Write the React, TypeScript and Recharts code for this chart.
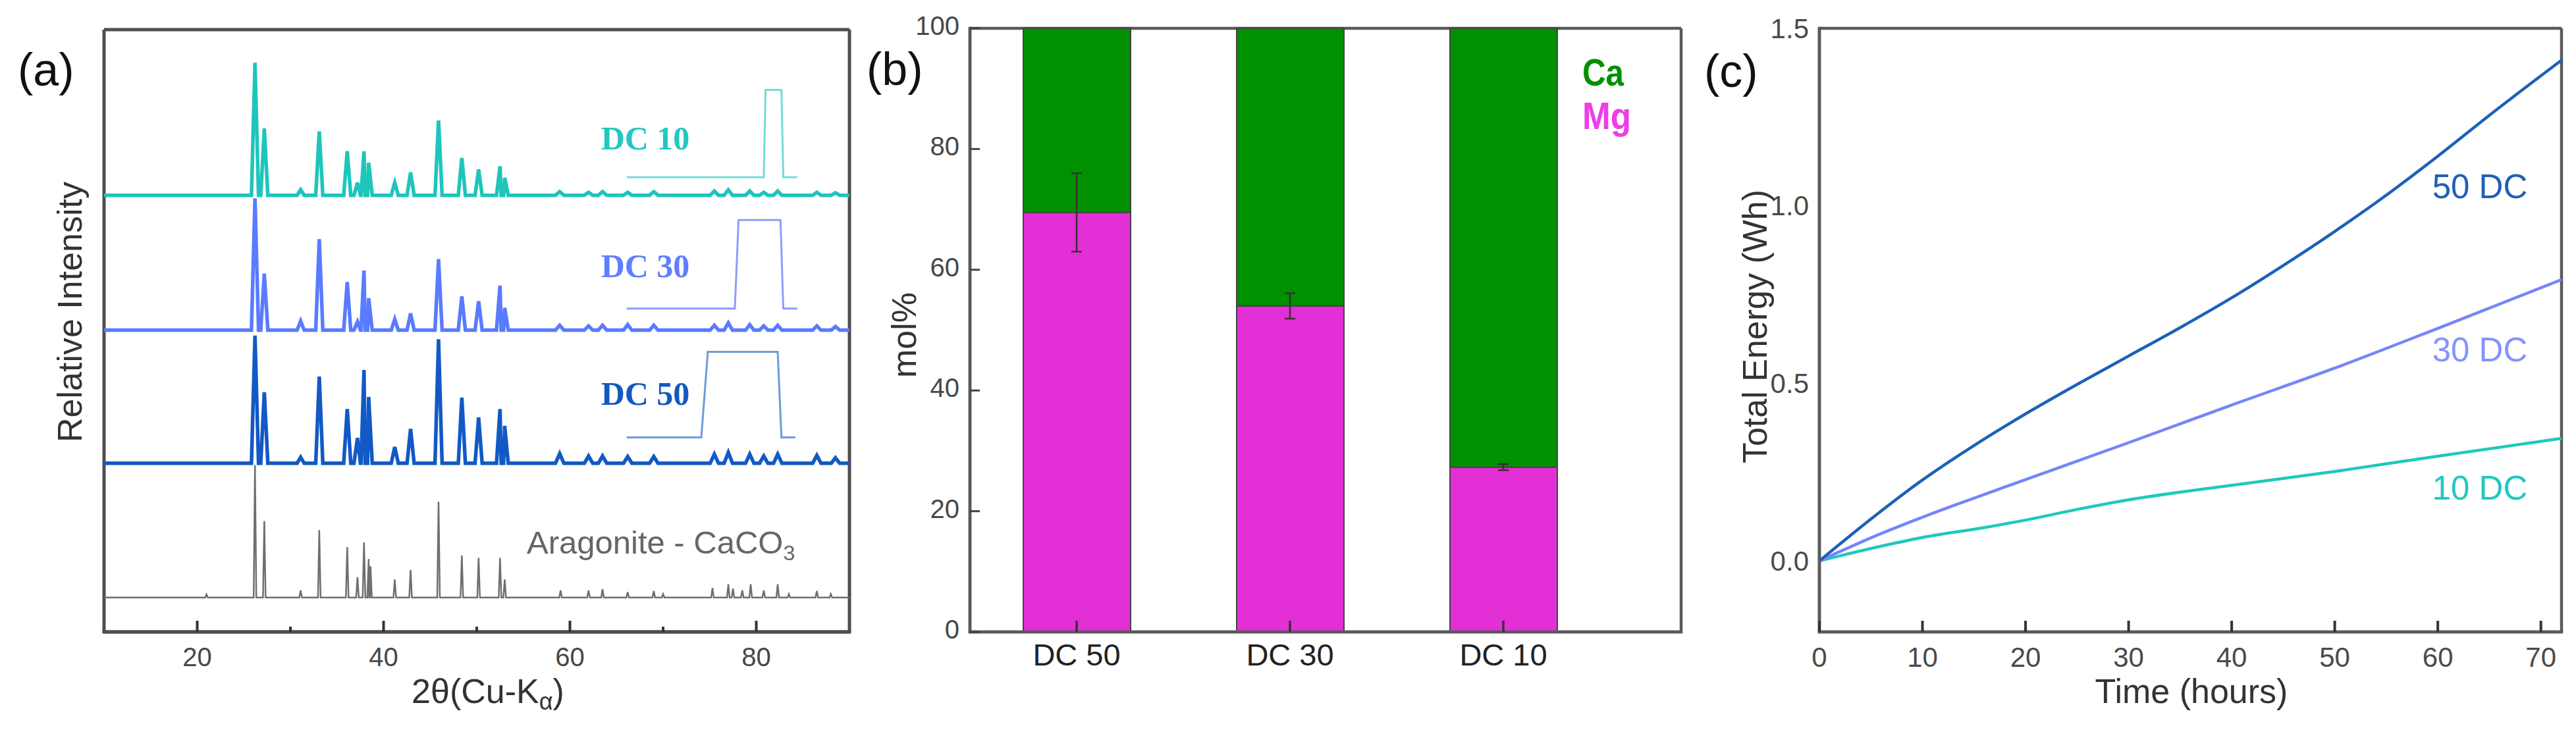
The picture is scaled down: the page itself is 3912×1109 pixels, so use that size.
import React from 'react';
import { LineChart, Line, XAxis, YAxis, ComposedChart, Bar, Scatter, ErrorBar, CartesianGrid } from 'recharts';

const SANS = '"Liberation Sans", Arial, Helvetica, sans-serif';
const SERIF = '"Liberation Serif", "Times New Roman", serif';

// ---------------- Panel (a): XRD patterns ----------------
const xrdTicks = [20, 30, 40, 50, 60, 70, 80];
const xrdLabelledTicks = [20, 40, 60, 80];
const samplePeakPos = [26.2, 27.2, 31.1, 33.1, 36.1, 37.2, 37.9, 38.4, 41.2, 42.9, 45.9, 48.4, 50.2, 52.5, 53.0];
const dc10Peaks = [94.5, 83.6, 73.4, 83.1, 79.8, 74.6, 79.8, 77.9, 74.6, 76.3, 84.9, 78.7, 76.8, 77.3, 75.4];
const dc30Peaks = [72.0, 59.5, 51.6, 65.2, 58.1, 51.5, 60.0, 55.4, 51.9, 52.9, 61.9, 55.7, 54.9, 57.5, 53.8];
const dc50Peaks = [49.2, 39.8, 29.0, 42.4, 37.0, 32.2, 43.5, 39.0, 30.7, 33.7, 48.6, 38.9, 35.6, 37.0, 34.2];
const sampleMinorPos = [58.9, 62.0, 63.5, 66.2, 69.0, 75.5, 77.0, 79.3, 80.8, 82.3, 86.5, 88.5];
const dc10Minor = [73.1, 73.0, 73.1, 73.0, 73.1, 73.2, 73.4, 73.2, 73.0, 73.2, 73.0, 72.9];
const dc30Minor = [50.9, 50.8, 50.9, 51.0, 50.9, 50.9, 51.3, 51.0, 50.8, 50.9, 50.8, 50.7];
const dc50Minor = [29.6, 29.2, 29.2, 29.1, 29.1, 29.5, 29.8, 29.5, 29.2, 29.5, 29.3, 28.9];
const dc10Base = 72.5;
const dc30Base = 50.1;
const dc50Base = 28.0;
const refBase = 5.7;
const refPeakPos = [21.0, 26.2, 27.2, 31.1, 33.1, 36.1, 37.2, 37.9, 38.4, 38.6, 41.2, 42.9, 45.9, 48.4, 50.2, 52.5, 53.0,
  59.0, 62.0, 63.5, 66.2, 69.0, 70.0, 75.3, 77.0, 77.5, 78.5, 79.4, 80.8, 82.3, 83.5, 86.5, 88.0];
const refPeaks = [6.2, 27.7, 18.4, 6.9, 16.9, 14.1, 9.1, 14.9, 12.1, 10.9, 8.7, 10.3, 21.6, 12.7, 12.3, 12.3, 8.7,
  6.9, 6.9, 7.1, 6.6, 6.8, 6.3, 7.3, 7.9, 7.2, 6.9, 7.9, 6.9, 7.9, 6.3, 6.8, 6.3];

// duty-cycle pulse sketches (2θ, intensity units)
const pulse10X = [66.1, 80.8, 81.0, 82.7, 82.9, 84.4];
const pulse10Y = [75.5, 75.5, 90.0, 90.0, 75.5, 75.5];
const pulse30X = [66.1, 77.7, 78.1, 82.6, 82.9, 84.4];
const pulse30Y = [53.7, 53.7, 68.4, 68.4, 53.7, 53.7];
const pulse50X = [66.1, 74.1, 74.8, 82.3, 82.7, 84.2];
const pulse50Y = [32.3, 32.3, 46.5, 46.5, 32.3, 32.3];

type Pt = { x: number; y: number };
function pattern(base: number, pos: number[], h: number[], hw: number, pos2: number[] = [], h2: number[] = [], hw2 = 0.45): Pt[] {
  const pts: Pt[] = [{ x: 10, y: base }, { x: 90, y: base }];
  pos.forEach((p, i) => { pts.push({ x: p - hw, y: base }, { x: p, y: h[i] }, { x: p + hw, y: base }); });
  pos2.forEach((p, i) => { pts.push({ x: p - hw2, y: base }, { x: p, y: h2[i] }, { x: p + hw2, y: base }); });
  return pts.sort((a, b) => a.x - b.x);
}
const zipPts = (xs: number[], ys: number[]): Pt[] => xs.map((x, i) => ({ x, y: ys[i] }));

const refPts = pattern(refBase, refPeakPos, refPeaks, 0.14);
const dc50Pts = pattern(dc50Base, samplePeakPos, dc50Peaks, 0.38, sampleMinorPos, dc50Minor);
const dc30Pts = pattern(dc30Base, samplePeakPos, dc30Peaks, 0.38, sampleMinorPos, dc30Minor);
const dc10Pts = pattern(dc10Base, samplePeakPos, dc10Peaks, 0.38, sampleMinorPos, dc10Minor);

// ---------------- Panel (b): composition ----------------
const compCategories = ['DC 50', 'DC 30', 'DC 10'];
const mgMol = [69.5, 54.0, 27.3];
const caMol = [30.5, 46.0, 72.7];
const mgErr = [6.5, 2.1, 0.5];
const molTicks = [0, 20, 40, 60, 80, 100];
const compData = compCategories.map((name, i) => ({ name, mg: mgMol[i], ca: caMol[i], err: mgErr[i] }));

// ---------------- Panel (c): total energy ----------------
const timeTicks = [0, 10, 20, 30, 40, 50, 60, 70];
const energyTicks = [0, 0.5, 1.0, 1.5];
const t50 = [0, 5, 10, 15, 20, 25, 30, 35, 40, 45, 50, 55, 60, 65, 72];
const e50 = [0, 0.118, 0.228, 0.325, 0.414, 0.497, 0.577, 0.657, 0.741, 0.832, 0.928, 1.03, 1.14, 1.255, 1.41];
const t30 = [0, 5, 10, 20, 30, 40, 50, 60, 72];
const e30 = [0, 0.065, 0.123, 0.229, 0.333, 0.439, 0.543, 0.655, 0.792];
const t10 = [0, 5, 10, 16, 20, 25, 30, 40, 50, 60, 72];
const e10 = [0, 0.035, 0.066, 0.094, 0.115, 0.145, 0.172, 0.213, 0.252, 0.295, 0.345];
const zipE = (ts: number[], es: number[]) => ts.map((t, i) => ({ t, e: es[i] }));

const frameA = { stroke: '#4e4e4e', strokeWidth: 5, strokeLinecap: 'square' as const };
const frameB = { stroke: '#5a5a5a', strokeWidth: 4.5, strokeLinecap: 'square' as const };

const hFrame = ({ offset }: any) => [offset.top, offset.top + offset.height];
const vFrame = ({ offset }: any) => [offset.left, offset.left + offset.width];

const XrdTick = (props: any) => {
  const { x, y, payload } = props;
  const v = payload.value;
  const major = xrdLabelledTicks.includes(v);
  return (
    <g>
      <line x1={x} x2={x} y1={y} y2={y - (major ? 17 : 8)} stroke="#333" strokeWidth={4} />
      {major && (
        <text x={x} y={y + 38} textAnchor="middle" dominantBaseline="central" fontSize={40} fill="#474747" fontFamily={SANS}>{v}</text>
      )}
    </g>
  );
};

const CatTick = (props: any) => {
  const { x, y, payload } = props;
  return (
    <g>
      <line x1={x} x2={x} y1={y} y2={y - 17} stroke="#333" strokeWidth={3.5} />
      <text x={x} y={y + 34} textAnchor="middle" dominantBaseline="central" fontSize={47} fill="#222" fontFamily={SANS}>{payload.value}</text>
    </g>
  );
};

const MolTick = (props: any) => {
  const { x, y, payload } = props;
  return (
    <g>
      <line x1={x} x2={x + 15} y1={y} y2={y} stroke="#444" strokeWidth={3} />
      <text x={x - 16} y={y - 4} textAnchor="end" dominantBaseline="central" fontSize={40} fill="#474747" fontFamily={SANS}>{payload.value}</text>
    </g>
  );
};

const TimeTick = (props: any) => {
  const { x, y, payload } = props;
  return (
    <g>
      <line x1={x} x2={x} y1={y} y2={y - 17} stroke="#333" strokeWidth={4} />
      <text x={x} y={y + 38} textAnchor="middle" dominantBaseline="central" fontSize={42} fill="#4a4a4a" fontFamily={SANS}>{payload.value}</text>
    </g>
  );
};

const EnergyTick = (props: any) => {
  const { x, y, payload } = props;
  return (
    <text x={x - 16} y={y} textAnchor="end" dominantBaseline="central" fontSize={42} fill="#4a4a4a" fontFamily={SANS}>{Number(payload.value).toFixed(1)}</text>
  );
};

export default function App() {
  return (
    <div style={{ position: 'absolute', left: 0, top: 0, width: 3912, height: 1109, background: '#fff', overflow: 'hidden' }}>
      {/* Panel (a) */}
      <div style={{ position: 'absolute', left: 0, top: 0 }}>
        <LineChart width={1320} height={1109} margin={{ top: 45, right: 30, left: 158, bottom: 49 }}>
          <CartesianGrid stroke="#4e4e4e" strokeWidth={5} fill="none" horizontalCoordinatesGenerator={hFrame} verticalCoordinatesGenerator={vFrame} />
          <XAxis dataKey="x" type="number" domain={[10, 90]} ticks={xrdTicks} interval={0} tickSize={0} tickMargin={0}
            tick={(p: any) => <XrdTick {...p} />} height={100} axisLine={frameA} allowDataOverflow />
          <YAxis type="number" domain={[0, 100]} width={0} tick={false} tickLine={false} axisLine={frameA} allowDataOverflow />
          <Line data={refPts} dataKey="y" type="linear" stroke="#6f6f6f" strokeWidth={2.5} dot={false} isAnimationActive={false} />
          <Line data={dc50Pts} dataKey="y" type="linear" stroke="#1259c6" strokeWidth={5.5} dot={false} isAnimationActive={false} />
          <Line data={dc30Pts} dataKey="y" type="linear" stroke="#5a7bff" strokeWidth={5.5} dot={false} isAnimationActive={false} />
          <Line data={dc10Pts} dataKey="y" type="linear" stroke="#1ec5bc" strokeWidth={5.5} dot={false} isAnimationActive={false} />
          <Line data={zipPts(pulse10X, pulse10Y)} dataKey="y" type="linear" stroke="#72dcd5" strokeWidth={3} dot={false} isAnimationActive={false} />
          <Line data={zipPts(pulse30X, pulse30Y)} dataKey="y" type="linear" stroke="#8c9dff" strokeWidth={3} dot={false} isAnimationActive={false} />
          <Line data={zipPts(pulse50X, pulse50Y)} dataKey="y" type="linear" stroke="#6e9bd8" strokeWidth={3} dot={false} isAnimationActive={false} />
        </LineChart>
      </div>

      {/* Panel (b) */}
      <div style={{ position: 'absolute', left: 1320, top: 0 }}>
        <ComposedChart width={1290} height={1109} data={compData} margin={{ top: 43, right: 57, left: 53, bottom: 49 }}>
          <CartesianGrid stroke="#5a5a5a" strokeWidth={4.5} fill="none" horizontalCoordinatesGenerator={hFrame} verticalCoordinatesGenerator={vFrame} />
          <Bar dataKey="mg" stackId="s" fill="#e22fd6" stroke="#444" strokeWidth={2} barSize={163} isAnimationActive={false} />
          <Bar dataKey="ca" stackId="s" fill="#009000" stroke="#444" strokeWidth={2} barSize={163} isAnimationActive={false} />
          <Scatter dataKey="mg" shape={() => <g />} isAnimationActive={false}>
            <ErrorBar dataKey="err" direction="y" width={8} stroke="#333" strokeWidth={2.5} />
          </Scatter>
          <XAxis dataKey="name" type="category" padding={{ left: 0, right: 108 }} tickSize={0} tickMargin={0}
            tick={(p: any) => <CatTick {...p} />} height={100} axisLine={frameB} interval={0} />
          <YAxis type="number" domain={[0, 100]} ticks={molTicks} interval={0} width={100} tickSize={0} tickMargin={0}
            tick={(p: any) => <MolTick {...p} />} axisLine={frameB} />
        </ComposedChart>
      </div>

      {/* Panel (c) */}
      <div style={{ position: 'absolute', left: 2600, top: 0 }}>
        <LineChart width={1312} height={1109} margin={{ top: 43, right: 22, left: 43, bottom: 49 }}>
          <CartesianGrid stroke="#5a5a5a" strokeWidth={4.5} fill="none" horizontalCoordinatesGenerator={hFrame} verticalCoordinatesGenerator={vFrame} />
          <XAxis dataKey="t" type="number" domain={[0, 72]} ticks={timeTicks} interval={0} tickSize={0} tickMargin={0}
            tick={(p: any) => <TimeTick {...p} />} height={100} axisLine={frameB} allowDataOverflow />
          <YAxis type="number" domain={[-0.2, 1.5]} ticks={energyTicks} interval={0} width={120} tickSize={0} tickMargin={0}
            tick={(p: any) => <EnergyTick {...p} />} axisLine={frameB} allowDataOverflow />
          <Line data={zipE(t10, e10)} dataKey="e" type="monotone" stroke="#1fc8bd" strokeWidth={4.5} dot={false} isAnimationActive={false} />
          <Line data={zipE(t30, e30)} dataKey="e" type="monotone" stroke="#7585fa" strokeWidth={4.5} dot={false} isAnimationActive={false} />
          <Line data={zipE(t50, e50)} dataKey="e" type="monotone" stroke="#1c61b8" strokeWidth={4.5} dot={false} isAnimationActive={false} />
        </LineChart>
      </div>

      {/* Text overlay */}
      <svg width={3912} height={1109} style={{ position: 'absolute', left: 0, top: 0, pointerEvents: 'none' }}>
        <g fontFamily={SANS}>
          <text x={27} y={130} fontSize={70} fill="#111">(a)</text>
          <text x={1316} y={129} fontSize={70} fill="#111">(b)</text>
          <text x={2588} y={132} fontSize={70} fill="#111">(c)</text>

          <text transform="translate(106,474) rotate(-90)" textAnchor="middle" dominantBaseline="central" fontSize={52} fill="#333">Relative Intensity</text>
          <text x={741} y={1068} textAnchor="middle" fontSize={52} fill="#333">2θ(Cu-K<tspan fontSize={36} dy={10}>α</tspan><tspan dy={-10}>)</tspan></text>
          <text x={800} y={841} fontSize={49} fill="#666">Aragonite - CaCO<tspan fontSize={32} dy={10}>3</tspan></text>

          <text transform="translate(1373,509) rotate(-90)" textAnchor="middle" dominantBaseline="central" fontSize={52} fill="#333">mol%</text>
          <text x={2403} y={130} fontSize={58} fontWeight="bold" fill="#009000" textLength={63} lengthAdjust="spacingAndGlyphs">Ca</text>
          <text x={2403} y={196} fontSize={58} fontWeight="bold" fill="#ee3ee6" textLength={74} lengthAdjust="spacingAndGlyphs">Mg</text>

          <text transform="translate(2665,496) rotate(-90)" textAnchor="middle" dominantBaseline="central" fontSize={52} fill="#333">Total Energy (Wh)</text>
          <text x={3328} y={1068} textAnchor="middle" fontSize={52} fill="#333">Time (hours)</text>
          <text x={3766} y={301} textAnchor="middle" fontSize={51} fill="#1f5fb5">50 DC</text>
          <text x={3766} y={549} textAnchor="middle" fontSize={51} fill="#8593ff">30 DC</text>
          <text x={3766} y={759} textAnchor="middle" fontSize={51} fill="#1fc9bf">10 DC</text>
        </g>
        <g fontFamily={SERIF} fontWeight="bold" textAnchor="middle">
          <text x={980} y={227} fontSize={50} fill="#21c8bf">DC 10</text>
          <text x={980} y={421} fontSize={50} fill="#5d7fff">DC 30</text>
          <text x={980} y={615} fontSize={50} fill="#1459c0">DC 50</text>
        </g>
      </svg>
    </div>
  );
}
